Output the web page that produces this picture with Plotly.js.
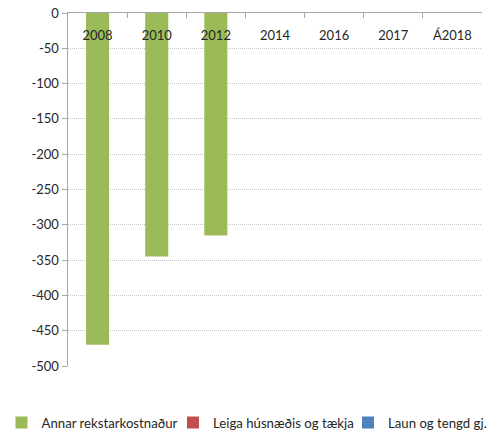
<!DOCTYPE html>
<html><head><meta charset="utf-8">
<script src="https://cdn.plot.ly/plotly-3.0.1.min.js"></script>
<style>html,body{margin:0;padding:0;background:#fff}#chart{width:491px;height:433px}</style>
</head><body><div id="chart"></div>
<script>
const categories = ["2008","2010","2012","2014","2016","2017","Á2018"];
const annarRekstur = [-470, -345, -315, null, null, null, null];
const leigaHusnaedis = [null, null, null, null, null, null, null];
const launTengd = [null, null, null, null, null, null, null];
const yTickVals = [0,-50,-100,-150,-200,-250,-300,-350,-400,-450,-500];
const yTickText = ["0","-50","-100","-150","-200","-250","-300","-350","-400","-450","-500"];

const FONT = "Lato, 'Liberation Sans', sans-serif";
const TXT = "#262626";
const traces = [
  {type:"bar", name:"Annar rekstarkostnaður", x:categories, y:annarRekstur, marker:{color:"#9BBB59"}, legend:"legend"},
  {type:"bar", name:"Leiga húsnæðis og tækja", x:categories, y:leigaHusnaedis, marker:{color:"#C0504D"}, legend:"legend2"},
  {type:"bar", name:"Laun og tengd gj.", x:categories, y:launTengd, marker:{color:"#4F81BD"}, legend:"legend3", xaxis:"x2"}
];
const legBase = {orientation:"h", xanchor:"left", y:-0.161, yanchor:"middle", font:{size:13.2, color:TXT}, bgcolor:"rgba(0,0,0,0)"};
const layout = {
  width:491, height:433,
  margin:{l:68, r:9, t:13, b:67, autoexpand:false},
  paper_bgcolor:"#fff", plot_bgcolor:"#fff",
  font:{family:FONT, size:13, color:TXT},
  barmode:"relative", bargap:0.61,
  showlegend:true,
  legend: Object.assign({}, legBase, {x:-0.1606}),
  legend2: Object.assign({}, legBase, {x:0.2536}),
  legend3: Object.assign({}, legBase, {x:0.6763}),
  xaxis:{type:"category", categoryarray:categories, side:"top", showticklabels:false, tickson:"boundaries",
         ticks:"inside", ticklen:5, tickcolor:"#a6a6a6", showline:true, linecolor:"#a6a6a6", linewidth:1.5,
         showgrid:false, zeroline:false},
  xaxis2:{type:"category", categoryarray:categories, overlaying:"x", anchor:"free", position:0.917, side:"top",
          range:[-0.5, 6.5], ticks:"", showline:false,
          showgrid:false, zeroline:false, tickfont:{size:13, color:TXT}},
  yaxis:{range:[-500,0], tickvals:yTickVals, ticktext:yTickText, ticks:"outside", ticklen:5,
         tickcolor:"#a6a6a6", showline:true, linecolor:"#a6a6a6", linewidth:1.5,
         showgrid:true, gridcolor:"#c4c4c4", griddash:"1px,1px", gridwidth:1, zeroline:false,
         tickfont:{size:13, color:TXT}}
};
Plotly.newPlot("chart", traces, layout, {displayModeBar:false, staticPlot:true});
</script></body></html>
